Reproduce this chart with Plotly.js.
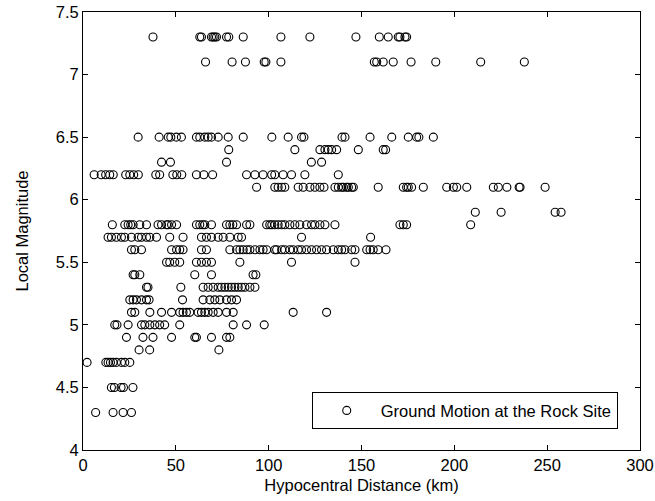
<!DOCTYPE html>
<html>
<head>
<meta charset="utf-8">
<script src="https://cdn.plot.ly/plotly-3.0.1.min.js"></script>
<style>html,body{margin:0;padding:0;background:#fff;}#chart{width:655px;height:501px;}</style>
</head>
<body>
<div id="chart"></div>
<script>
// Magnitude levels and hypocentral distances (km)
const m73 = [37.7, 62.9, 63.8, 69.2, 70.1, 71.0, 71.9, 77.3, 78.5, 86.3, 106.6, 122.2, 147.0, 159.6, 164.4, 169.8, 170.7, 173.4, 174.3];
const m71 = [66.0, 80.3, 87.5, 97.6, 98.5, 106.6, 156.9, 158.2, 161.7, 167.1, 176.7, 190.0, 214.2, 237.7];
const m65 = [29.7, 41.0, 45.9, 47.3, 50.3, 53.0, 61.1, 62.9, 65.6, 67.4, 69.2, 72.8, 78.2, 86.3, 101.7, 110.5, 117.7, 119.0, 139.5, 141.1, 154.6, 166.3, 175.2, 179.7, 180.9, 188.7];
const m64 = [78.5, 114.1, 127.6, 130.3, 132.1, 133.9, 136.6, 148.3, 161.7, 163.0];
const m63 = [42.3, 47.1, 77.3, 123.0, 128.5];
const m62 = [6.0, 9.8, 12.2, 14.4, 16.3, 23.0, 25.2, 27.3, 29.8, 39.2, 41.3, 48.4, 50.5, 53.2, 61.1, 65.1, 69.8, 88.1, 92.6, 97.0, 101.6, 103.3, 107.8, 112.3, 119.5, 137.5];
const m61 = [93.5, 103.3, 105.1, 107.0, 108.7, 115.9, 118.6, 122.2, 124.9, 127.6, 129.8, 135.7, 137.5, 139.3, 140.2, 142.0, 142.9, 144.7, 145.6, 159.0, 172.5, 174.3, 175.2, 177.0, 183.3, 195.9, 199.5, 201.3, 206.7, 221.0, 223.7, 228.3, 234.9, 235.4, 248.9];
const m59 = [211.3, 225.2, 254.3, 257.5];
const m58 = [15.8, 22.5, 24.3, 25.7, 27.0, 30.6, 34.2, 40.4, 42.3, 45.0, 45.8, 47.7, 50.4, 61.1, 62.9, 64.5, 65.6, 69.2, 77.3, 79.1, 80.7, 82.7, 88.1, 89.9, 98.9, 100.6, 101.7, 103.3, 105.1, 107.0, 108.7, 111.4, 114.1, 116.8, 120.4, 123.1, 124.9, 127.6, 130.3, 135.7, 170.7, 172.5, 174.3, 208.8];
const m57 = [13.5, 15.3, 18.0, 20.7, 22.5, 26.1, 29.7, 31.5, 34.2, 36.0, 39.6, 46.7, 53.9, 63.8, 66.5, 69.2, 72.8, 75.5, 79.1, 83.6, 85.4, 117.7, 154.9];
const m56 = [26.1, 27.9, 31.5, 47.7, 50.4, 52.1, 53.9, 63.8, 66.5, 79.1, 82.7, 84.5, 86.3, 88.3, 89.9, 92.6, 95.3, 97.0, 98.9, 103.3, 104.3, 107.0, 108.7, 111.4, 113.2, 115.9, 117.7, 120.4, 123.1, 125.8, 128.5, 131.2, 134.8, 137.5, 139.3, 141.1, 144.7, 146.5, 152.8, 154.6, 156.3, 159.0, 163.2];
const m55 = [45.0, 46.7, 49.4, 52.1, 61.1, 63.8, 66.5, 69.2, 84.5, 112.3, 146.5];
const m54 = [27.0, 27.9, 30.6, 60.2, 69.2, 91.6, 93.1];
const m53 = [34.2, 35.0, 52.7, 64.7, 67.4, 70.1, 72.8, 74.6, 76.4, 78.2, 80.0, 81.8, 83.6, 85.4, 87.2, 89.9, 92.6];
const m52 = [25.2, 27.0, 28.8, 31.5, 34.2, 35.6, 53.6, 64.7, 68.3, 71.0, 73.7, 77.3, 80.0, 82.7];
const m51 = [26.1, 27.9, 36.0, 42.3, 47.7, 52.1, 53.9, 55.7, 57.5, 62.0, 63.8, 65.6, 67.4, 70.1, 72.8, 77.3, 80.9, 113.2, 131.2];
const m50 = [17.1, 18.3, 24.3, 31.5, 33.3, 36.0, 38.7, 41.3, 44.0, 52.1, 80.9, 88.1, 97.6];
const m49 = [23.4, 32.3, 37.7, 47.7, 60.2, 61.1, 69.2, 77.3, 79.1];
const m48 = [30.2, 35.9, 73.2];
const m47 = [2.2, 12.3, 13.5, 14.8, 16.2, 18.0, 20.7, 22.5, 25.2];
const m45 = [15.3, 16.9, 20.5, 21.8, 26.9];
const m43 = [6.8, 16.2, 21.6, 26.1];

const magnitudeLevels = [7.3, 7.1, 6.5, 6.4, 6.3, 6.2, 6.1, 5.9, 5.8, 5.7, 5.6, 5.5, 5.4, 5.3, 5.2, 5.1, 5.0, 4.9, 4.8, 4.7, 4.5, 4.3];
const distanceGroups = [m73, m71, m65, m64, m63, m62, m61, m59, m58, m57, m56, m55, m54, m53, m52, m51, m50, m49, m48, m47, m45, m43];

const xTickVals = [0, 50, 100, 150, 200, 250, 300];
const yTickVals = [4, 4.5, 5, 5.5, 6, 6.5, 7, 7.5];
const yTickText = ['4', '4.5', '5', '5.5', '6', '6.5', '7', '7.5'];
const seriesName = 'Ground Motion at the Rock Site';

const xs = [], ys = [];
distanceGroups.forEach((g, i) => g.forEach(d => { xs.push(d); ys.push(magnitudeLevels[i]); }));

const font = {family: 'Liberation Sans, Arial, sans-serif', size: 16.5, color: '#000'};

const trace = {
  x: xs, y: ys, type: 'scatter', mode: 'markers', name: seriesName,
  marker: {symbol: 'circle-open', size: 8, color: '#000', line: {width: 1.1, color: '#000'}},
  showlegend: true
};

const axisCommon = {
  showgrid: false, zeroline: false, showline: true, linecolor: '#000', linewidth: 1,
  mirror: 'allticks', ticks: 'inside', ticklen: 5, tickcolor: '#000', tickwidth: 1,
  tickfont: font
};

const layout = {
  width: 655, height: 501,
  margin: {l: 83, r: 15, t: 12, b: 51},
  paper_bgcolor: '#fff', plot_bgcolor: '#fff',
  font: font,
  showlegend: true,
  xaxis: Object.assign({}, axisCommon, {
    range: [0, 300], tickmode: 'array', tickvals: xTickVals,
    title: {text: 'Hypocentral Distance (km)', font: font, standoff: 6}
  }),
  yaxis: Object.assign({}, axisCommon, {
    range: [4, 7.5], tickmode: 'array', tickvals: yTickVals, ticktext: yTickText,
    title: {text: 'Local Magnitude', font: font, standoff: 22}
  }),
  legend: {
    x: 0.96, xanchor: 'right', y: 0.132, yanchor: 'top',
    bordercolor: '#000', borderwidth: 1, bgcolor: '#fff',
    font: {family: font.family, size: 16.5, color: '#000'},
    itemwidth: 58
  }
};

Plotly.newPlot('chart', [trace], layout, {displayModeBar: false, staticPlot: true});
</script>
</body>
</html>
